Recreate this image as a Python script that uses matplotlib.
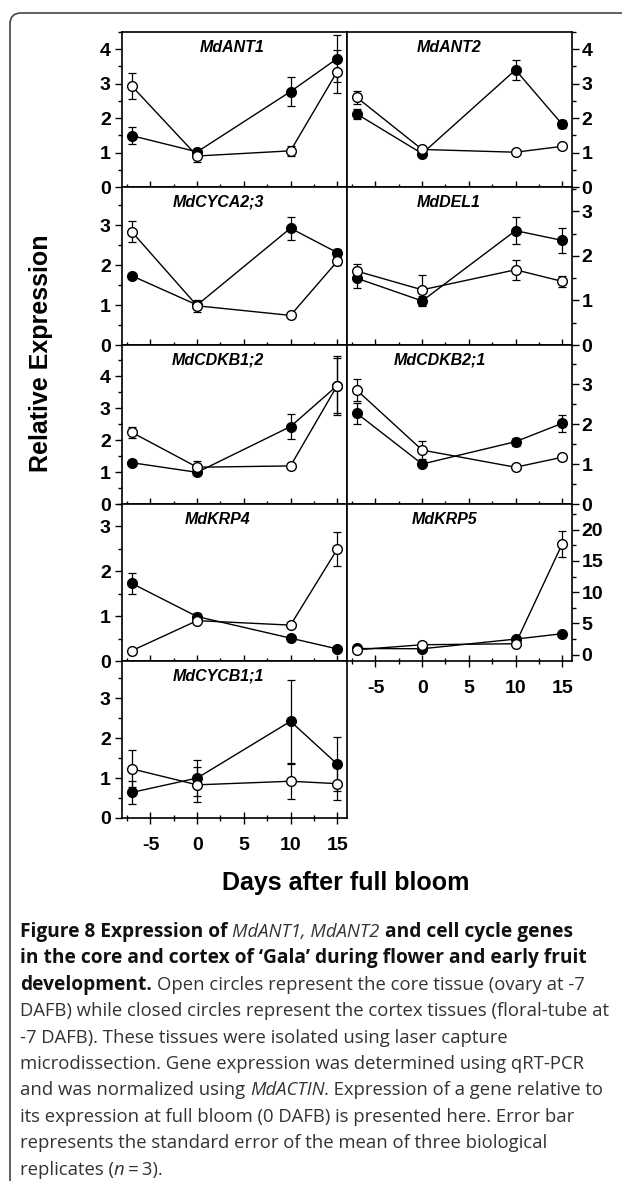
import matplotlib
matplotlib.use('Agg')
import matplotlib.pyplot as plt
from matplotlib.patches import FancyBboxPatch
from matplotlib.ticker import MultipleLocator
from matplotlib.transforms import IdentityTransform

days = [-7, 0, 10, 15]

# open circles = core, closed circles = cortex (values and standard errors)
ant1_core = [2.93, 0.90, 1.05, 3.35]
ant1_core_se = [0.37, 0.16, 0.15, 0.62]
ant1_cortex = [1.49, 1.02, 2.77, 3.73]
ant1_cortex_se = [0.24, 0.08, 0.41, 0.67]

ant2_core = [2.60, 1.09, 1.01, 1.18]
ant2_core_se = [0.18, 0.06, 0.0, 0.0]
ant2_cortex = [2.12, 0.97, 3.40, 1.82]
ant2_cortex_se = [0.15, 0.06, 0.29, 0.12]

cyca_core = [2.83, 0.98, 0.74, 2.09]
cyca_core_se = [0.26, 0.15, 0.0, 0.10]
cyca_cortex = [1.73, 1.00, 2.92, 2.31]
cyca_cortex_se = [0.05, 0.10, 0.29, 0.08]

del1_core = [1.66, 1.24, 1.69, 1.43]
del1_core_se = [0.15, 0.34, 0.22, 0.13]
del1_cortex = [1.50, 0.99, 2.57, 2.35]
del1_cortex_se = [0.23, 0.12, 0.30, 0.28]

cdkb12_core = [2.24, 1.15, 1.19, 3.70]
cdkb12_core_se = [0.17, 0.20, 0.0, 0.85]
cdkb12_cortex = [1.29, 0.99, 2.42, 3.70]
cdkb12_cortex_se = [0.07, 0.05, 0.38, 0.93]

cdkb21_core = [2.85, 1.35, 0.92, 1.17]
cdkb21_core_se = [0.27, 0.22, 0.06, 0.08]
cdkb21_cortex = [2.27, 1.00, 1.56, 2.02]
cdkb21_cortex_se = [0.27, 0.07, 0.10, 0.22]

krp4_core = [0.23, 0.90, 0.80, 2.49]
krp4_core_se = [0.0, 0.08, 0.0, 0.38]
krp4_cortex = [1.73, 0.99, 0.51, 0.27]
krp4_cortex_se = [0.24, 0.08, 0.0, 0.0]

krp5_core = [0.8, 1.6, 1.76, 17.7]
krp5_core_se = [0.0, 0.3, 0.0, 2.13]
krp5_cortex = [1.0, 0.96, 2.5, 3.36]
krp5_cortex_se = [0.0, 0.0, 0.2, 0.0]

cycb_core = [1.23, 0.83, 0.92, 0.86]
cycb_core_se = [0.46, 0.44, 0.44, 0.41]
cycb_cortex = [0.64, 1.00, 2.42, 1.35]
cycb_cortex_se = [0.29, 0.45, 1.04, 0.68]

W, H = 622, 1181
fig = plt.figure(figsize=(W / 100, H / 100), dpi=100)
plt.rcParams['font.family'] = ['Liberation Sans', 'DejaVu Sans']
plt.rcParams['axes.unicode_minus'] = False

col_x = [122, 347]
col_w = 225
rows = [32, 187, 345, 504, 661, 818]

# name, col, row, core, core_se, cortex, cortex_se, ylim, major, minor, title x
panels = [
    ('MdANT1', 0, 0, ant1_core, ant1_core_se, ant1_cortex, ant1_cortex_se, (0, 4.5), 1, 0.5, 0.49),
    ('MdANT2', 1, 0, ant2_core, ant2_core_se, ant2_cortex, ant2_cortex_se, (0, 4.5), 1, 0.5, 0.453),
    ('MdCYCA2;3', 0, 1, cyca_core, cyca_core_se, cyca_cortex, cyca_cortex_se, (0, 3.95), 1, 0.5, 0.428),
    ('MdDEL1', 1, 1, del1_core, del1_core_se, del1_cortex, del1_cortex_se, (0, 3.55), 1, 0.5, 0.453),
    ('MdCDKB1;2', 0, 2, cdkb12_core, cdkb12_core_se, cdkb12_cortex, cdkb12_cortex_se, (0, 4.97), 1, 0.5, 0.427),
    ('MdCDKB2;1', 1, 2, cdkb21_core, cdkb21_core_se, cdkb21_cortex, cdkb21_cortex_se, (0, 3.98), 1, 0.5, 0.413),
    ('MdKRP4', 0, 3, krp4_core, krp4_core_se, krp4_cortex, krp4_cortex_se, (0, 3.5), 1, 0.5, 0.423),
    ('MdKRP5', 1, 3, krp5_core, krp5_core_se, krp5_cortex, krp5_cortex_se, (-1, 24.1), 5, 2.5, 0.432),
    ('MdCYCB1;1', 0, 4, cycb_core, cycb_core_se, cycb_cortex, cycb_cortex_se, (0, 3.93), 1, 0.5, 0.428),
]

for name, col, row, core, core_se, cortex, cortex_se, ylim, major, minor, tx in panels:
    top, bot = rows[row], rows[row + 1]
    ax = fig.add_axes([col_x[col] / W, 1 - bot / H, col_w / W, (bot - top) / H])
    ax.errorbar(days, cortex, yerr=cortex_se, fmt='none', ecolor='black',
                elinewidth=0.9, capsize=3, capthick=0.9, zorder=2)
    ax.errorbar(days, core, yerr=core_se, fmt='none', ecolor='black',
                elinewidth=0.9, capsize=3, capthick=0.9, zorder=2)
    ax.plot(days, cortex, '-o', color='black', lw=1.0, ms=7, mfc='black',
            mec='black', mew=1.0, zorder=3)
    ax.plot(days, core, '-o', color='black', lw=1.0, ms=7, mfc='white',
            mec='black', mew=1.0, zorder=4)
    ax.set_xlim(-8.05, 16.05)
    ax.set_ylim(*ylim)
    ax.xaxis.set_major_locator(MultipleLocator(5))
    ax.xaxis.set_minor_locator(MultipleLocator(2.5))
    ax.yaxis.set_major_locator(MultipleLocator(major))
    ax.yaxis.set_minor_locator(MultipleLocator(minor))
    for sp in ax.spines.values():
        sp.set_linewidth(1.2)
    ax.tick_params(axis='x', which='both', direction='inout', width=1.0,
                   top=False, labelsize=14, pad=10)
    ax.tick_params(axis='x', which='major', length=8)
    ax.tick_params(axis='x', which='minor', length=5)
    ax.tick_params(axis='y', which='both', direction='out', width=1.0, labelsize=14)
    ax.tick_params(axis='y', which='major', length=5)
    ax.tick_params(axis='y', which='minor', length=3)
    if col == 1:
        ax.yaxis.tick_right()
        ax.tick_params(axis='y', which='both', left=False, pad=2)
    else:
        ax.tick_params(axis='y', which='both', right=False, pad=3)
    if not (name in ('MdCYCB1;1', 'MdKRP5')):
        ax.tick_params(axis='x', labelbottom=False)
    for lab in ax.get_xticklabels() + ax.get_yticklabels():
        lab.set_fontweight('bold')
    ax.annotate(name, xy=(tx, 1), xycoords='axes fraction', xytext=(0, -5.5),
                textcoords='offset points', ha='center', va='top',
                fontsize=11.5, fontweight='bold', fontstyle='italic')

fig.text(41 / W, 1 - 353 / H, 'Relative Expression', rotation=90, ha='center',
         va='center', fontsize=18, fontweight='bold')
fig.text(346 / W, 1 - 890 / H, 'Days after full bloom', ha='center',
         va='baseline', fontsize=18, fontweight='bold')

# rounded frame around the figure block
frame = FancyBboxPatch((10, -30), 800, H - 13 + 30,
                       boxstyle='round,pad=0,rounding_size=11',
                       transform=IdentityTransform(), fill=False,
                       edgecolor='#444444', linewidth=1.2)
fig.add_artist(frame)

# caption with mixed styles
renderer = fig.canvas.get_renderer()
cap_font = ['Open Sans', 'DejaVu Sans']
B = ('normal', 'bold', '#111111', 1.03)
R = ('normal', 'normal', '#333333', 1.0)
I = ('italic', 'normal', '#333333', 1.0)

caption = [
    [('Figure 8 Expression of ', B), ('MdANT1, MdANT2', I), (' and cell cycle genes', B)],
    [('in the core and cortex of \u2018Gala\u2019 during flower and early fruit', B)],
    [('development.', B), (' Open circles represent the core tissue (ovary at -7', R)],
    [('DAFB) while closed circles represent the cortex tissues (floral-tube at', R)],
    [('-7 DAFB). These tissues were isolated using laser capture', R)],
    [('microdissection. Gene expression was determined using qRT-PCR', R)],
    [('and was normalized using ', R), ('MdACTIN', I), ('. Expression of a gene relative to', R)],
    [('its expression at full bloom (0 DAFB) is presented here. Error bar', R)],
    [('represents the standard error of the mean of three biological', R)],
    [('replicates (', R), ('n', I), ('\u2009=\u20093).', R)],
]


def text_width(s, style, size):
    t = fig.text(0, 0, s, fontsize=size * style[3], fontstyle=style[0],
                 fontweight=style[1], family=cap_font)
    w = t.get_window_extent(renderer).width
    t.remove()
    return w


# fit font size so that the longest regular line spans the caption width
base = 12
w4 = text_width(caption[3][0][0], R, base)
cap_size = base * 587 / w4

y0, dy = 937, 26.4
for i, line in enumerate(caption):
    x = 20
    y = y0 + i * dy
    for s, style in line:
        core = s.strip(' ')
        lead = len(s) - len(s.lstrip(' '))
        sp = text_width('a a', style, cap_size) - text_width('aa', style, cap_size)
        x += lead * sp
        fig.text(x / W, 1 - y / H, core, fontsize=cap_size * style[3],
                 fontstyle=style[0], fontweight=style[1], color=style[2],
                 family=cap_font, ha='left', va='baseline')
        x += text_width(core, style, cap_size)
        x += (len(s) - len(s.rstrip(' '))) * sp

fig.savefig('out.png', dpi=100)
